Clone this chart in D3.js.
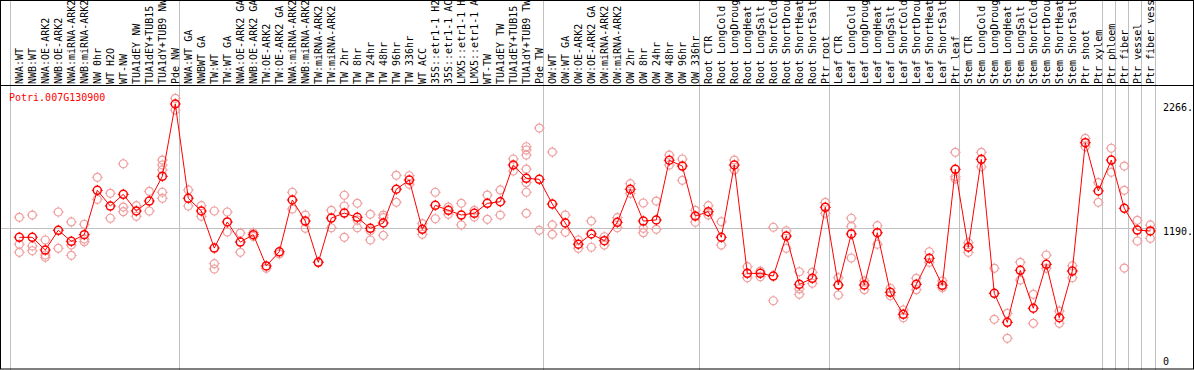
<!DOCTYPE html>
<html>
<head>
<meta charset="utf-8">
<script src="https://cdn.jsdelivr.net/npm/d3@7"></script>
<style>
  body { margin: 0; background: #fff; }
  svg { display: block; }
  text { font-family: "DejaVu Sans Mono", "Liberation Mono", monospace; font-size: 10px; }
</style>
</head>
<body>
<svg id="chart" width="1194" height="370"></svg>
<script>
// gene shown
var gene = "Potri.007G130900";

// sample names (labels get cut to 14 chars like the original)
var samples = [
  "NWA:WT", "NWB:WT", "NWA:OE-ARK2", "NWB:OE-ARK2", "NWA:miRNA-ARK2", "NWB:miRNA-ARK2",
  "NW 0hr", "WT H2O", "WT-NW", "TUA1dEY NW", "TUA1dEY+TUB15 NW", "TUA1dY+TUB9 NW", "Pde NW",
  "NWA:WT GA", "NWBWT GA", "TW:WT", "TW:WT GA", "NWA:OE-ARK2 GA", "NWB:OE-ARK2 GA",
  "TW:OE-ARK2", "TW:OE-ARK2 GA", "NWA:miRNA-ARK2 GA", "NWB:miRNA-ARK2 GA", "TW:miRNA-ARK2",
  "TW:miRNA-ARK2 GA", "TW 2hr", "TW 8hr", "TW 24hr", "TW 48hr", "TW 96hr", "TW 336hr",
  "WT ACC", "35S::etr1-1 H2O", "35S::etr1-1 ACC", "LMX5::etr1-1 H2O", "LMX5::etr1-1 ACC",
  "WT-TW", "TUA1dEY TW", "TUA1dEY+TUB15 TW", "TUA1dY+TUB9 TW", "Pde TW",
  "OW:WT", "OW:WT GA", "OW:OE-ARK2", "OW:OE-ARK2 GA", "OW:miRNA-ARK2", "OW:miRNA-ARK2 GA",
  "OW 2hr", "OW 8hr", "OW 24hr", "OW 48hr", "OW 96hr", "OW 336hr",
  "Root CTR", "Root LongCold", "Root LongDrought", "Root LongHeat", "Root LongSalt",
  "Root ShortCold", "Root ShortDrought", "Root ShortHeat", "Root ShortSalt", "Ptr root",
  "Leaf CTR", "Leaf LongCold", "Leaf LongDrought", "Leaf LongHeat", "Leaf LongSalt",
  "Leaf ShortCold", "Leaf ShortDrought", "Leaf ShortHeat", "Leaf ShortSalt", "Ptr leaf",
  "Stem CTR", "Stem LongCold", "Stem LongDrought", "Stem LongHeat", "Stem LongSalt",
  "Stem ShortCold", "Stem ShortDrought", "Stem ShortHeat", "Stem ShortSalt", "Ptr shoot",
  "Ptr xylem", "Ptr phloem", "Ptr fiber", "Ptr vessel", "Ptr fiber vessel"
];

// how many samples in each block between the grey lines
var groupSizes = [13, 28, 12, 10, 10, 11, 1, 1, 1, 1];

// mean expression per sample
var means = [
  1112, 1112, 1002, 1173, 1077, 1135, 1519, 1383, 1484, 1340, 1426, 1640, 2266,
  1450, 1340, 1019, 1245, 1071, 1135, 864, 987, 1435, 1253, 896, 1279, 1322, 1285,
  1190, 1236, 1528, 1608, 1181, 1389, 1346, 1305, 1320, 1406, 1420, 1738, 1623, 1614,
  1400, 1236, 1052, 1141, 1083, 1242, 1528, 1253, 1262, 1779, 1729, 1296,
  1334, 1112, 1738, 800, 800, 777, 1123, 705, 757, 1372,
  699, 1141, 699, 1152, 636, 446, 705, 930, 697, 1701,
  1026, 1787, 627, 376, 826, 498, 878, 416, 820, 1931,
  1513, 1781, 1363, 1175, 1167
];

// single replicates per sample
var reps = [
  [1285, 1052, 982], [1305, 1037, 996], [1089, 959, 939], [1331, 1017], [1245, 1045, 956],
  [1225, 1097, 1074], [1631, 1441], [1493, 1277], [1749, 1374, 1334], [1386, 1294],
  [1510, 1340], [1781, 1738, 1695, 1502, 1450], [2315, 2214],
  [1522, 1383], [1386, 1294], [1340, 884, 838], [1331, 1158], [1149, 982], [1152, 1120],
  [844], [968], [1502, 1357], [1305, 1190], [896], [1346, 1195], [1476, 1383, 1112],
  [1406, 1262, 1195], [1311, 1169, 1089], [1305, 1282, 1129], [1649, 1415], [1645, 1571],
  [1230, 1138], [1502, 1273], [1374, 1311], [1406, 1219], [1346, 1288], [1478, 1268],
  [1522, 1305], [1790, 1686], [1896, 1868, 1824, 1703, 1585, 1502, 1320], [2058, 1173],
  [1850, 1219, 1138], [1305, 1155], [1089, 1017], [1253, 1026], [1117, 1045], [1282, 1195],
  [1576, 1493], [1409, 1190, 1152], [1426, 1181], [1824, 1738], [1790, 1605], [1346, 1242],
  [1386, 1305], [1247, 1045], [1781, 1695], [858, 762], [820, 771], [1199, 563],
  [1169, 1017], [814, 665, 619], [809, 714], [1415, 1320],
  [762, 613], [1277, 1207, 933], [734, 659], [1213, 1052], [671, 607], [483, 416],
  [757, 659], [987, 896], [734, 676], [1848, 1637, 1617],
  [1065, 982], [1848, 1723], [844, 402], [454, 238], [896, 742], [619, 368], [959, 844],
  [474, 368], [866, 762], [1969, 1896],
  [1585, 1415], [1883, 1675], [1729, 1519, 846], [1259, 1080], [1219, 1103]
];

// values written on the right side
var yTicks = [0, 1190, 2266];
var yTickLabels = ["0", "1190.", "2266."];

var W = 1194, H = 370, headerH = 85;
var svg = d3.select("#chart");

var x = d3.scaleLinear().domain([0, samples.length - 1]).range([19.3, 19.3 + 13 * (samples.length - 1)]);
var y = d3.scaleLinear().domain([0, 2266]).range([365.8, 104]);
var plotRight = x(samples.length - 1) + 6.5;

// grey lines between groups (they run through the header too)
var bounds = [];
var start = 0;
groupSizes.forEach(function(n) { bounds.push(Math.round(x(start) - 9) + 0.5); start += n; });
bounds.push(Math.round(x(samples.length - 1) + 5) + 0.5);

svg.append("g").selectAll("line")
  .data(bounds)
  .enter().append("line")
  .attr("x1", d => d).attr("x2", d => d)
  .attr("y1", 0).attr("y2", H)
  .attr("stroke", "#c0c0c0");

// horizontal reference line at the middle tick
svg.append("line")
  .attr("x1", 1).attr("x2", plotRight)
  .attr("y1", Math.round(y(1190)) + 0.5).attr("y2", Math.round(y(1190)) + 0.5)
  .attr("stroke", "#c0c0c0");

// rotated sample labels
svg.append("g").selectAll("text")
  .data(samples)
  .enter().append("text")
  .attr("transform", (d, i) => "translate(" + (x(i) + 3.5) + "," + (headerH - 1) + ") rotate(-90)")
  .attr("fill", "#000")
  .text(d => d.slice(0, 14));

// frame
svg.append("rect")
  .attr("x", 0.5).attr("y", 0.5).attr("width", W - 1).attr("height", H - 1.5)
  .attr("fill", "none").attr("stroke", "#000");
svg.append("line")
  .attr("x1", 0).attr("x2", W)
  .attr("y1", headerH + 0.5).attr("y2", headerH + 0.5)
  .attr("stroke", "#000");

// gene name
svg.append("text")
  .attr("x", 9).attr("y", 101)
  .attr("fill", "#ff0000")
  .text(gene);

// right side value labels
svg.append("g").selectAll("text")
  .data(yTicks)
  .enter().append("text")
  .attr("x", 1163)
  .attr("y", d => Math.min(y(d) + 7, 365))
  .attr("fill", "#000")
  .text((d, i) => yTickLabels[i]);

// marker = circle with four little ticks
function marker(g, color, width) {
  g.append("circle").attr("r", 4).attr("fill", "none").attr("stroke", color).attr("stroke-width", width);
  g.append("path")
    .attr("d", "M0,-5.5V-3.5M0,3.5V5.5M-5.5,0H-3.5M3.5,0H5.5")
    .attr("stroke", color).attr("stroke-width", 1);
}

// replicates
var repData = [];
reps.forEach(function(r, i) { r.forEach(function(v) { repData.push({i: i, v: v}); }); });

svg.append("g").selectAll("g")
  .data(repData)
  .enter().append("g")
  .attr("transform", d => "translate(" + x(d.i) + "," + y(d.v) + ")")
  .each(function() { marker(d3.select(this), "#f0a0a0", 1.2); });

// line through the means
svg.append("path")
  .datum(means)
  .attr("fill", "none")
  .attr("stroke", "#ff0000")
  .attr("stroke-width", 1)
  .attr("d", d3.line().x((d, i) => x(i)).y(d => y(d)));

// means
svg.append("g").selectAll("g")
  .data(means)
  .enter().append("g")
  .attr("transform", (d, i) => "translate(" + x(i) + "," + y(d) + ")")
  .each(function() { marker(d3.select(this), "#ff0000", 1.5); });
</script>
</body>
</html>
